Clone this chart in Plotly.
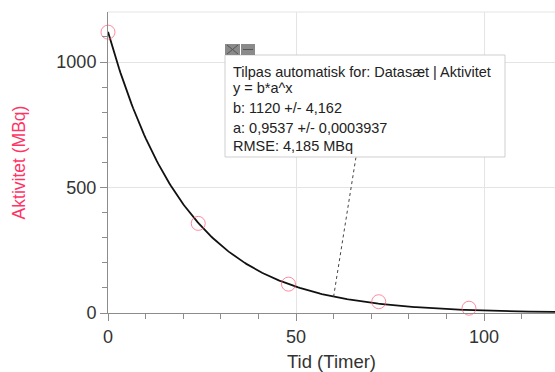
import plotly.graph_objects as go
import numpy as np

# Data
tid = [0, 24, 48, 72, 96, 120]
aktivitet = [1119, 357, 115, 45, 19, 5]
fit_b = 1120
fit_a = 0.9537
fit_x = np.linspace(0, 125, 300)
fit_y = fit_b * fit_a ** fit_x
box_lines = [
    "Tilpas automatisk for: Datasæt | Aktivitet",
    "y = b*a^x",
    "b: 1120 +/- 4,162",
    "a: 0,9537 +/- 0,0003937",
    "RMSE: 4,185 MBq",
]

W, H = 555, 372
L, R, T, B = 108, 0, 12, 59
PW, PH = W - L - R, H - T - B
XR = [0, PW / 3.76]
YR = [0, PH / 0.251]

def px(x):
    return (x - L) / PW

def py(y):
    return (T + PH - y) / PH

def dx(x):
    return XR[0] + (x - L) / PW * (XR[1] - XR[0])

def dy(y):
    return YR[0] + (T + PH - y) / PH * (YR[1] - YR[0])

FONT = "Liberation Sans, Arial, sans-serif"
fig = go.Figure()
fig.add_trace(go.Scatter(x=fit_x, y=fit_y, mode="lines",
                         line=dict(color="#111111", width=1.8), cliponaxis=True,
                         showlegend=False))
fig.add_trace(go.Scatter(x=tid, y=aktivitet, mode="markers",
                         marker=dict(symbol="circle-open", size=14,
                                     color="rgba(255,90,120,0.7)",
                                     line=dict(width=1)),
                         cliponaxis=False, showlegend=False))

shapes = []
# top border
shapes.append(dict(type="line", xref="paper", yref="paper", x0=0, x1=1, y0=1, y1=1,
                   line=dict(color="#e4e4e4", width=1)))
# leader line from curve to box
x_c = 60
shapes.append(dict(type="line", xref="x", yref="y", x0=x_c, y0=fit_b * fit_a ** x_c,
                   x1=dx(356), y1=dy(157), line=dict(color="#444", width=1, dash="dot")))
# box
shapes.append(dict(type="rect", xref="paper", yref="paper", x0=px(225), x1=px(505),
                   y0=py(157), y1=py(55), fillcolor="white",
                   line=dict(color="#cfcfcf", width=1), layer="above"))
# close / minimize icons
shapes.append(dict(type="rect", xref="paper", yref="paper", x0=px(225), x1=px(240),
                   y0=py(55), y1=py(44), fillcolor="#8a8a8a", line=dict(width=0), layer="above"))
shapes.append(dict(type="rect", xref="paper", yref="paper", x0=px(241), x1=px(255),
                   y0=py(55), y1=py(44), fillcolor="#8a8a8a", line=dict(width=0), layer="above"))
shapes.append(dict(type="line", xref="paper", yref="paper", x0=px(227), x1=px(238),
                   y0=py(54), y1=py(45), line=dict(color="#555", width=1), layer="above"))
shapes.append(dict(type="line", xref="paper", yref="paper", x0=px(227), x1=px(238),
                   y0=py(45), y1=py(54), line=dict(color="#555", width=1), layer="above"))
shapes.append(dict(type="line", xref="paper", yref="paper", x0=px(243), x1=px(253),
                   y0=py(49.5), y1=py(49.5), line=dict(color="#555", width=1), layer="above"))

annotations = []
line_ys = [72, 88, 108, 128, 146]
for txt, yy in zip(box_lines, line_ys):
    annotations.append(dict(text=txt, xref="paper", yref="paper", x=px(231), y=py(yy),
                            xanchor="left", yanchor="middle", showarrow=False,
                            font=dict(family=FONT, size=14.5, color="#222")))

fig.update_layout(
    width=W, height=H, margin=dict(l=L, r=R, t=T, b=B, autoexpand=False),
    paper_bgcolor="white", plot_bgcolor="white",
    shapes=shapes, annotations=annotations,
    font=dict(family=FONT),
    xaxis=dict(range=XR, dtick=50, tick0=0, showgrid=True, gridcolor="#e4e4e4",
               automargin=False,
               zeroline=False, showline=True, linecolor="#8c8c8c", linewidth=1,
               ticks="outside", ticklen=7, tickcolor="#8c8c8c",
               minor=dict(dtick=10, ticks="outside", ticklen=5, tickcolor="#8c8c8c", showgrid=False),
               tickfont=dict(size=18, color="#333"),
               title=dict(text="Tid (Timer)", font=dict(size=18.5, color="#333"), standoff=9)),
    yaxis=dict(range=YR, dtick=500, tick0=0, showgrid=True, gridcolor="#e4e4e4",
               automargin=False,
               zeroline=False, showline=True, linecolor="#8c8c8c", linewidth=1,
               ticks="outside", ticklen=7, tickcolor="#8c8c8c",
               minor=dict(dtick=100, ticks="outside", ticklen=5, tickcolor="#8c8c8c", showgrid=False),
               tickfont=dict(size=18, color="#333"),
               title=dict(text="Aktivitet (MBq)", font=dict(size=17.5, color="#ff3366"), standoff=26)),
)
fig.write_html("out.html", config={"displayModeBar": False},
               post_script="document.body.style.margin='0px';document.body.style.overflow='hidden';")
